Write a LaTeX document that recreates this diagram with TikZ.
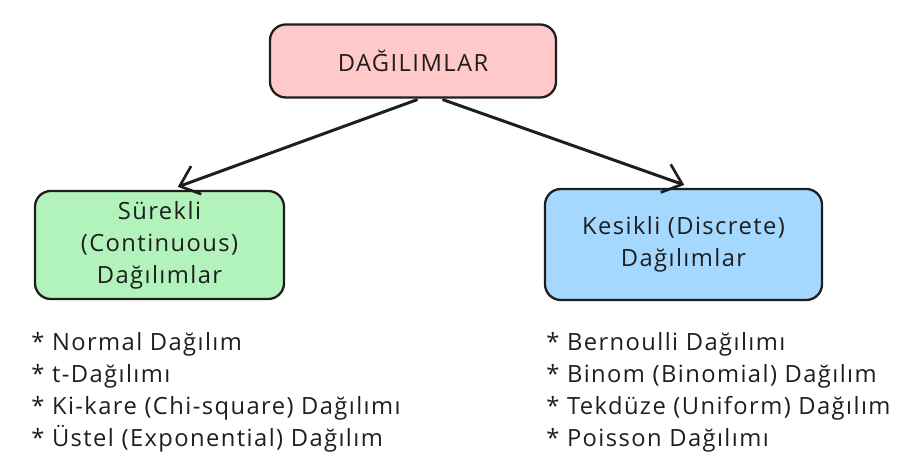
\documentclass[tikz,border=0pt]{standalone}
\usepackage{fontspec}
\setmainfont[LetterSpace=6]{Open Sans}
\usepackage{tikz}
\usetikzlibrary{arrows.meta, positioning}
\definecolor{dink}{HTML}{1E1E1E}
\definecolor{dpink}{HTML}{FFC9C9}
\definecolor{dgreen}{HTML}{B2F2BB}
\definecolor{dblue}{HTML}{A5D8FF}
\tikzset{
  catbox/.style={draw=dink, line width=1.3pt, rounded corners=9pt,
                 text=dink, align=center, font=\fontsize{13.5}{18.2}\selectfont},
  topbox/.style={catbox, fill=dpink, minimum width=5.72cm, minimum height=1.46cm},
  contbox/.style={catbox, fill=dgreen, minimum width=4.98cm, minimum height=2.16cm},
  discbox/.style={catbox, fill=dblue, minimum width=5.54cm, minimum height=2.22cm},
  listtxt/.style={anchor=west, align=left, text=dink, inner sep=0pt,
                  font=\fontsize{13.5}{18.2}\selectfont},
  arr/.style={-{Straight Barb[length=10pt, width=17pt, line width=1.5pt]},
              line width=1.7pt, dink, line cap=round},
}
\begin{document}
\begin{tikzpicture}
    \useasboundingbox (0,0) rectangle (18.48,9.3);

    \node[topbox] (dist) at (8.26, 8.08) {DAĞILIMLAR};
    \node[contbox] (cont) at (3.19, 4.40) {Sürekli\\(Continuous)\\Dağılımlar};
    \node[discbox] (disc) at (13.67, 4.41) {Kesikli (Discrete)\\Dağılımlar};

    \draw[arr, shorten <=2pt, shorten >=5pt]
      ([xshift=0.14cm]dist.south) -- ([xshift=0.2cm]cont.north);
    \draw[arr, shorten <=2pt, shorten >=5pt]
      ([xshift=0.54cm]dist.south) -- ([xshift=0.18cm]disc.north);

    \node[listtxt] (contlist) at (0.62, 1.46)
      {* Normal Dağılım\\* t-Dağılımı\\* Ki-kare (Chi-square) Dağılımı\\* Üstel (Exponential) Dağılım};
    \node[listtxt] (disclist) at (10.92, 1.46)
      {* Bernoulli Dağılımı\\* Binom (Binomial) Dağılım\\* Tekdüze (Uniform) Dağılım\\* Poisson Dağılımı};
  \end{tikzpicture}
\end{document}
